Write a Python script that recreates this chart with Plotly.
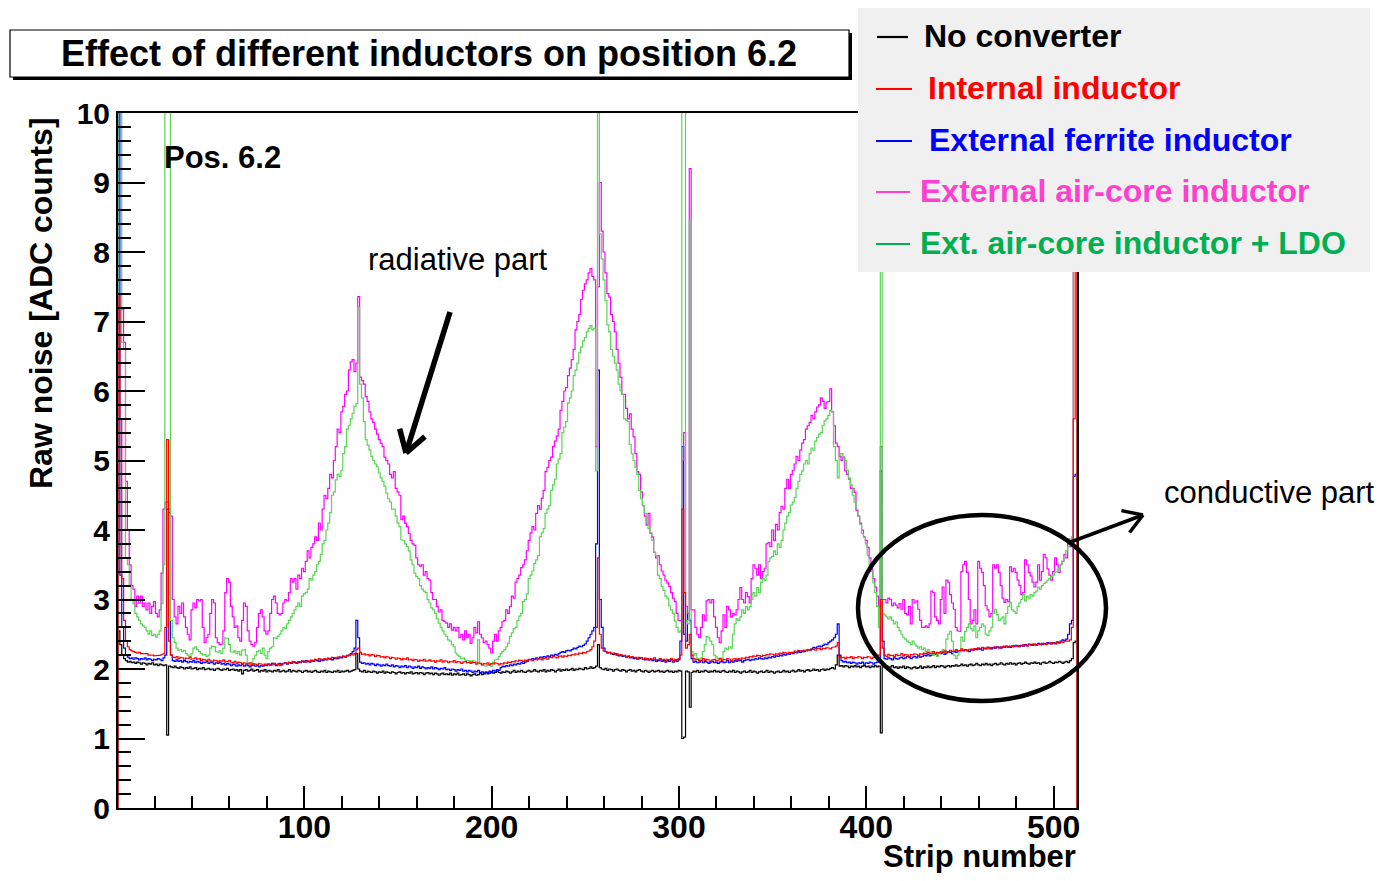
import numpy as np
import plotly.graph_objects as go

# ---------------- data (raw noise per strip, strips 1..512) ----------------
x_tick_values = [100, 200, 300, 400, 500]
y_tick_values = [0, 1, 2, 3, 4, 5, 6, 7, 8, 9, 10]

series_names = ["No converter", "Internal inductor", "External ferrite inductor",
                "External air-core inductor", "Ext. air-core inductor + LDO"]

no_converter = [
    2.55, 2.35, 2.20, 2.15, 2.12, 2.10, 2.11, 2.09, 2.10, 2.08, 2.10, 2.09, 2.07, 2.09, 2.08, 2.06,
    2.08, 2.07, 2.09, 2.06, 2.07, 2.05, 2.07, 2.06, 2.05, 2.06, 1.05, 2.04, 2.03, 2.02, 2.04, 2.02,
    2.01, 2.03, 2.02, 2.00, 2.02, 2.01, 2.03, 2.00, 2.01, 2.02, 1.99, 2.01, 2.00, 2.02, 1.99, 2.00,
    2.01, 1.99, 2.00, 1.98, 2.00, 2.01, 1.99, 1.98, 2.00, 1.99, 2.01, 1.98, 1.99, 2.00, 1.98, 1.99,
    1.97, 1.99, 1.93, 1.98, 1.99, 1.97, 1.98, 2.00, 1.97, 1.98, 1.99, 1.96, 1.98, 1.97, 1.99, 1.96,
    1.98, 1.97, 1.96, 1.98, 1.97, 1.99, 1.96, 1.97, 1.98, 1.96, 1.97, 1.99, 1.96, 1.98, 1.97, 1.96,
    1.98, 1.97, 1.95, 1.97, 1.98, 1.96, 1.97, 1.95, 1.97, 1.98, 1.96, 1.95, 1.97, 1.96, 1.98, 1.95,
    1.97, 1.96, 1.95, 1.97, 1.96, 1.98, 1.95, 1.97, 1.96, 1.97, 1.98, 1.96, 1.97, 1.98, 1.99, 2.22,
    2.00, 1.97, 1.96, 1.98, 1.95, 1.97, 1.96, 1.95, 1.97, 1.96, 1.94, 1.96, 1.95, 1.97, 1.94, 1.96,
    1.95, 1.94, 1.96, 1.95, 1.93, 1.95, 1.96, 1.94, 1.95, 1.93, 1.95, 1.94, 1.96, 1.93, 1.94, 1.95,
    1.93, 1.95, 1.94, 1.92, 1.94, 1.95, 1.93, 1.94, 1.92, 1.94, 1.93, 1.91, 1.93, 1.94, 1.92, 1.93,
    1.92, 1.94, 1.91, 1.93, 1.92, 1.94, 1.91, 1.92, 1.93, 1.91, 1.93, 1.92, 1.90, 1.92, 1.93, 1.91,
    1.92, 1.94, 1.92, 1.93, 1.95, 1.93, 1.94, 1.96, 1.94, 1.95, 1.97, 1.95, 1.94, 1.96, 1.95, 1.97,
    1.96, 1.94, 1.96, 1.98, 1.95, 1.97, 1.96, 1.98, 1.96, 1.95, 1.97, 1.98, 1.96, 1.97, 1.99, 1.97,
    1.96, 1.98, 1.97, 1.99, 1.96, 1.98, 1.97, 1.99, 1.98, 1.96, 1.98, 2.00, 1.97, 1.99, 1.98, 2.00,
    1.98, 1.99, 2.01, 1.98, 2.00, 1.99, 2.01, 2.00, 1.99, 2.02, 2.00, 2.01, 2.03, 2.01, 2.02, 2.04,
    2.35, 2.02, 2.00, 1.99, 2.01, 1.98, 2.00, 1.99, 1.97, 1.99, 2.00, 1.98, 1.97, 1.99, 1.98, 1.96,
    1.98, 1.99, 1.97, 1.98, 1.96, 1.98, 1.99, 1.97, 1.96, 1.98, 1.97, 1.95, 1.97, 1.98, 1.96, 1.97,
    1.98, 1.96, 1.97, 1.95, 1.97, 1.98, 1.96, 1.97, 1.95, 1.97, 1.96, 1.98, 1.97, 1.00, 1.02, 1.97,
    1.96, 1.45, 1.95, 1.97, 1.96, 1.98, 1.95, 1.97, 1.96, 1.98, 1.97, 1.95, 1.97, 1.96, 1.98, 1.96,
    1.97, 1.95, 1.97, 1.98, 1.96, 1.95, 1.97, 1.96, 1.98, 1.95, 1.97, 1.96, 1.94, 1.96, 1.97, 1.95,
    1.96, 1.98, 1.95, 1.97, 1.96, 1.94, 1.96, 1.97, 1.95, 1.96, 1.98, 1.95, 1.97, 1.96, 1.94, 1.96,
    1.97, 1.95, 1.96, 1.98, 1.96, 1.97, 1.95, 1.97, 1.98, 1.96, 1.97, 1.99, 1.97, 1.98, 1.96, 1.98,
    1.99, 1.97, 1.98, 2.00, 1.98, 1.99, 1.97, 1.99, 2.00, 1.98, 2.00, 1.99, 2.01, 2.02, 2.00, 2.06,
    2.20, 2.04, 2.05, 2.03, 2.05, 2.04, 2.02, 2.04, 2.03, 2.05, 2.03, 2.04, 2.02, 2.04, 2.05, 2.03,
    2.04, 2.02, 2.04, 2.03, 2.05, 2.03, 2.04, 1.08, 2.05, 2.03, 2.04, 2.02, 2.03, 2.05, 2.02, 2.03,
    2.01, 2.03, 2.02, 2.04, 2.01, 2.03, 2.02, 2.00, 2.02, 2.03, 2.01, 2.02, 2.04, 2.01, 2.03, 2.02,
    2.04, 2.02, 2.03, 2.05, 2.02, 2.04, 2.03, 2.05, 2.04, 2.02, 2.04, 2.05, 2.03, 2.05, 2.04, 2.06,
    2.04, 2.05, 2.07, 2.05, 2.06, 2.04, 2.06, 2.07, 2.05, 2.06, 2.08, 2.06, 2.05, 2.07, 2.06, 2.08,
    2.06, 2.07, 2.05, 2.07, 2.08, 2.06, 2.07, 2.09, 2.07, 2.06, 2.08, 2.07, 2.09, 2.07, 2.08, 2.06,
    2.08, 2.09, 2.07, 2.08, 2.10, 2.08, 2.07, 2.09, 2.08, 2.10, 2.08, 2.09, 2.07, 2.09, 2.10, 2.08,
    2.09, 2.11, 2.09, 2.08, 2.10, 2.09, 2.11, 2.10, 2.08, 2.10, 2.11, 2.09, 2.12, 2.15, 2.38, 2.40,
]

internal_inductor = [
    7.40, 5.60, 3.30, 2.70, 2.40, 2.32, 2.28, 2.26, 2.25, 2.24, 2.23, 2.24, 2.22, 2.22, 2.21, 2.22,
    2.20, 2.21, 2.20, 2.19, 2.20, 2.19, 2.20, 2.21, 2.22, 2.60, 5.30, 2.40, 2.20, 2.17, 2.16, 2.18,
    2.15, 2.17, 2.16, 2.14, 2.16, 2.15, 2.17, 2.14, 2.15, 2.16, 2.14, 2.15, 2.12, 2.14, 2.13, 2.12,
    2.14, 2.12, 2.11, 2.13, 2.12, 2.10, 2.12, 2.11, 2.13, 2.10, 2.11, 2.12, 2.10, 2.09, 2.11, 2.08,
    2.10, 2.09, 2.07, 2.09, 2.08, 2.07, 2.09, 2.06, 2.08, 2.07, 2.06, 2.08, 2.07, 2.05, 2.07, 2.06,
    2.07, 2.05, 2.06, 2.08, 2.06, 2.07, 2.05, 2.07, 2.08, 2.09, 2.08, 2.10, 2.09, 2.11, 2.10, 2.09,
    2.11, 2.10, 2.12, 2.11, 2.10, 2.12, 2.11, 2.13, 2.12, 2.14, 2.13, 2.15, 2.14, 2.13, 2.15, 2.14,
    2.16, 2.15, 2.17, 2.16, 2.15, 2.17, 2.18, 2.17, 2.19, 2.18, 2.20, 2.19, 2.21, 2.20, 2.22, 2.28,
    2.30, 2.24, 2.21, 2.22, 2.20, 2.21, 2.19, 2.21, 2.20, 2.18, 2.20, 2.19, 2.17, 2.18, 2.16, 2.18,
    2.17, 2.15, 2.17, 2.16, 2.14, 2.16, 2.15, 2.13, 2.15, 2.14, 2.16, 2.13, 2.14, 2.12, 2.14, 2.13,
    2.11, 2.13, 2.12, 2.14, 2.11, 2.12, 2.13, 2.11, 2.12, 2.10, 2.12, 2.11, 2.13, 2.10, 2.12, 2.11,
    2.09, 2.11, 2.10, 2.12, 2.09, 2.11, 2.10, 2.08, 2.10, 2.11, 2.09, 2.10, 2.08, 2.10, 2.09, 2.07,
    2.09, 2.08, 2.06, 2.08, 2.07, 2.09, 2.06, 2.08, 2.07, 2.09, 2.08, 2.06, 2.08, 2.07, 2.09, 2.08,
    2.10, 2.09, 2.11, 2.10, 2.12, 2.11, 2.13, 2.12, 2.11, 2.13, 2.12, 2.14, 2.13, 2.12, 2.14, 2.13,
    2.15, 2.14, 2.13, 2.15, 2.16, 2.14, 2.17, 2.16, 2.18, 2.17, 2.16, 2.18, 2.19, 2.17, 2.19, 2.18,
    2.20, 2.19, 2.21, 2.20, 2.22, 2.21, 2.23, 2.22, 2.24, 2.23, 2.25, 2.26, 2.28, 2.32, 2.40, 2.60,
    3.60, 2.50, 2.30, 2.26, 2.25, 2.23, 2.24, 2.22, 2.23, 2.21, 2.22, 2.20, 2.21, 2.19, 2.20, 2.18,
    2.19, 2.17, 2.18, 2.16, 2.17, 2.15, 2.17, 2.16, 2.14, 2.16, 2.15, 2.13, 2.15, 2.14, 2.16, 2.13,
    2.14, 2.15, 2.13, 2.14, 2.12, 2.14, 2.13, 2.15, 2.12, 2.14, 2.13, 2.15, 2.20, 4.30, 3.10, 2.30,
    2.35, 2.50, 2.20, 2.15, 2.13, 2.14, 2.12, 2.13, 2.15, 2.12, 2.14, 2.13, 2.11, 2.13, 2.14, 2.12,
    2.13, 2.15, 2.12, 2.14, 2.13, 2.15, 2.14, 2.12, 2.14, 2.15, 2.13, 2.15, 2.14, 2.16, 2.15, 2.17,
    2.16, 2.18, 2.17, 2.19, 2.18, 2.20, 2.19, 2.18, 2.20, 2.19, 2.21, 2.20, 2.22, 2.21, 2.20, 2.22,
    2.21, 2.23, 2.22, 2.24, 2.23, 2.22, 2.24, 2.25, 2.24, 2.26, 2.25, 2.27, 2.26, 2.25, 2.27, 2.26,
    2.28, 2.27, 2.29, 2.28, 2.27, 2.29, 2.30, 2.28, 2.30, 2.29, 2.31, 2.30, 2.29, 2.31, 2.32, 2.33,
    2.38, 2.18, 2.16, 2.17, 2.15, 2.17, 2.16, 2.18, 2.15, 2.17, 2.16, 2.18, 2.17, 2.15, 2.17, 2.16,
    2.18, 2.17, 2.15, 2.17, 2.16, 2.18, 2.20, 3.00, 2.30, 2.20, 2.18, 2.21, 2.19, 2.20, 2.18, 2.21,
    2.19, 2.20, 2.22, 2.19, 2.21, 2.20, 2.18, 2.21, 2.20, 2.22, 2.21, 2.19, 2.22, 2.21, 2.23, 2.22,
    2.24, 2.22, 2.23, 2.25, 2.22, 2.24, 2.23, 2.25, 2.24, 2.26, 2.24, 2.25, 2.27, 2.25, 2.26, 2.28,
    2.26, 2.27, 2.29, 2.27, 2.28, 2.26, 2.28, 2.29, 2.27, 2.29, 2.30, 2.28, 2.29, 2.31, 2.29, 2.30,
    2.31, 2.29, 2.31, 2.30, 2.32, 2.31, 2.30, 2.32, 2.31, 2.33, 2.32, 2.31, 2.33, 2.32, 2.34, 2.33,
    2.32, 2.34, 2.33, 2.35, 2.34, 2.33, 2.35, 2.34, 2.36, 2.35, 2.34, 2.36, 2.35, 2.37, 2.36, 2.35,
    2.37, 2.36, 2.38, 2.37, 2.36, 2.38, 2.37, 2.39, 2.38, 2.40, 2.41, 2.40, 2.42, 2.60, 5.60, 12.0,
]

external_ferrite = [
    12.0, 3.35, 2.60, 2.30, 2.20, 2.17, 2.15, 2.16, 2.14, 2.16, 2.15, 2.13, 2.15, 2.14, 2.16, 2.13,
    2.15, 2.14, 2.12, 2.14, 2.13, 2.15, 2.14, 2.12, 2.16, 2.20, 4.30, 4.25, 2.20, 2.12, 2.11, 2.13,
    2.11, 2.12, 2.10, 2.12, 2.11, 2.09, 2.11, 2.10, 2.12, 2.09, 2.11, 2.10, 2.08, 2.10, 2.09, 2.11,
    2.08, 2.10, 2.09, 2.07, 2.09, 2.08, 2.10, 2.07, 2.08, 2.06, 2.08, 2.07, 2.05, 2.07, 2.06, 2.04,
    2.06, 2.05, 2.07, 2.04, 2.06, 2.05, 2.03, 2.05, 2.06, 2.04, 2.05, 2.03, 2.05, 2.04, 2.06, 2.05,
    2.07, 2.06, 2.08, 2.07, 2.05, 2.07, 2.08, 2.06, 2.08, 2.09, 2.07, 2.09, 2.08, 2.10, 2.09, 2.08,
    2.10, 2.09, 2.11, 2.10, 2.12, 2.11, 2.10, 2.12, 2.11, 2.13, 2.12, 2.11, 2.13, 2.12, 2.14, 2.13,
    2.15, 2.14, 2.13, 2.15, 2.16, 2.15, 2.17, 2.16, 2.18, 2.17, 2.19, 2.20, 2.22, 2.25, 2.30, 2.70,
    2.45, 2.10, 2.08, 2.09, 2.07, 2.08, 2.06, 2.08, 2.07, 2.05, 2.07, 2.06, 2.04, 2.06, 2.05, 2.07,
    2.05, 2.04, 2.06, 2.03, 2.05, 2.04, 2.02, 2.04, 2.03, 2.05, 2.02, 2.04, 2.03, 2.01, 2.03, 2.02,
    2.04, 2.01, 2.03, 2.02, 2.00, 2.02, 2.01, 2.03, 2.00, 2.02, 2.01, 1.99, 2.01, 2.00, 2.02, 1.99,
    2.00, 1.98, 2.00, 1.99, 1.97, 1.99, 1.98, 2.00, 1.97, 1.98, 1.96, 1.98, 1.97, 1.95, 1.97, 1.96,
    1.98, 1.95, 1.96, 1.94, 1.96, 1.95, 1.97, 1.95, 1.98, 1.97, 1.99, 1.98, 2.02, 2.04, 2.03, 2.05,
    2.04, 2.06, 2.05, 2.07, 2.06, 2.08, 2.07, 2.09, 2.08, 2.10, 2.11, 2.13, 2.14, 2.15, 2.14, 2.16,
    2.15, 2.17, 2.16, 2.18, 2.17, 2.19, 2.18, 2.20, 2.19, 2.21, 2.20, 2.22, 2.24, 2.25, 2.24, 2.26,
    2.27, 2.26, 2.28, 2.30, 2.29, 2.31, 2.33, 2.32, 2.34, 2.36, 2.40, 2.45, 2.50, 2.55, 2.60, 3.80,
    6.30, 3.00, 2.60, 2.30, 2.25, 2.23, 2.24, 2.22, 2.21, 2.22, 2.20, 2.19, 2.20, 2.18, 2.19, 2.17,
    2.18, 2.16, 2.17, 2.15, 2.16, 2.14, 2.15, 2.16, 2.14, 2.13, 2.15, 2.13, 2.14, 2.12, 2.13, 2.11,
    2.12, 2.13, 2.11, 2.12, 2.10, 2.12, 2.11, 2.13, 2.10, 2.12, 2.11, 2.13, 2.40, 5.20, 2.50, 2.40,
    2.80, 2.70, 2.15, 2.10, 2.11, 2.09, 2.10, 2.12, 2.09, 2.11, 2.10, 2.08, 2.10, 2.11, 2.09, 2.10,
    2.08, 2.10, 2.11, 2.09, 2.10, 2.12, 2.09, 2.11, 2.10, 2.12, 2.11, 2.13, 2.12, 2.10, 2.12, 2.13,
    2.14, 2.12, 2.14, 2.13, 2.15, 2.14, 2.16, 2.15, 2.14, 2.16, 2.15, 2.17, 2.16, 2.18, 2.17, 2.19,
    2.18, 2.20, 2.19, 2.21, 2.20, 2.22, 2.21, 2.23, 2.22, 2.24, 2.23, 2.25, 2.24, 2.26, 2.25, 2.27,
    2.28, 2.27, 2.29, 2.31, 2.30, 2.32, 2.33, 2.32, 2.34, 2.36, 2.35, 2.38, 2.40, 2.42, 2.45, 2.50,
    2.65, 2.20, 2.12, 2.10, 2.11, 2.09, 2.10, 2.08, 2.10, 2.09, 2.07, 2.09, 2.08, 2.10, 2.07, 2.09,
    2.08, 2.10, 2.09, 2.07, 2.09, 2.10, 2.12, 4.85, 2.40, 2.15, 2.14, 2.16, 2.15, 2.13, 2.16, 2.15,
    2.14, 2.16, 2.17, 2.15, 2.16, 2.18, 2.17, 2.15, 2.17, 2.18, 2.16, 2.19, 2.17, 2.18, 2.20, 2.19,
    2.21, 2.19, 2.20, 2.22, 2.21, 2.20, 2.23, 2.22, 2.24, 2.21, 2.23, 2.25, 2.24, 2.22, 2.25, 2.24,
    2.26, 2.25, 2.27, 2.26, 2.28, 2.27, 2.25, 2.28, 2.27, 2.29, 2.28, 2.30, 2.29, 2.27, 2.30, 2.29,
    2.31, 2.30, 2.29, 2.31, 2.30, 2.32, 2.31, 2.30, 2.32, 2.31, 2.33, 2.32, 2.31, 2.33, 2.32, 2.34,
    2.33, 2.32, 2.34, 2.33, 2.35, 2.34, 2.36, 2.35, 2.34, 2.36, 2.35, 2.37, 2.36, 2.35, 2.37, 2.36,
    2.38, 2.37, 2.36, 2.38, 2.37, 2.39, 2.38, 2.40, 2.42, 2.41, 2.43, 2.50, 2.65, 2.70, 4.77, 4.80,
]

external_aircore = [
    7.20, 7.20, 7.17, 6.70, 4.70, 4.00, 3.50, 3.20, 3.15, 2.90, 3.05, 2.95, 3.05, 2.90, 2.95, 2.85,
    2.95, 2.80, 2.90, 2.97, 2.80, 2.75, 2.85, 3.38, 4.30, 4.40, 4.40, 4.30, 4.20, 3.00, 2.75, 2.65,
    2.90, 2.80, 2.95, 2.75, 2.60, 2.50, 2.42, 2.85, 2.95, 2.88, 3.00, 2.98, 3.00, 2.60, 2.38, 2.45,
    2.50, 2.80, 3.00, 2.95, 2.45, 2.38, 2.35, 2.36, 2.55, 3.10, 3.30, 3.25, 2.90, 2.75, 2.60, 2.62,
    2.45, 2.40, 2.70, 2.95, 2.90, 2.55, 2.40, 2.35, 2.33, 2.38, 2.60, 2.80, 2.85, 2.75, 2.55, 2.50,
    2.55, 2.80, 3.00, 3.05, 2.95, 2.80, 2.78, 2.80, 2.95, 3.00, 2.98, 3.10, 3.30, 3.25, 3.30, 3.15,
    3.35, 3.30, 3.45, 3.40, 3.55, 3.70, 3.60, 3.75, 3.80, 3.90, 3.85, 4.10, 4.00, 4.30, 4.50, 4.45,
    4.60, 4.80, 4.75, 5.00, 5.20, 5.45, 5.40, 5.70, 5.78, 5.95, 6.00, 6.30, 6.42, 6.45, 6.28, 6.40,
    7.36, 6.20, 6.15, 6.10, 5.92, 5.85, 5.70, 5.60, 5.55, 5.45, 5.38, 5.30, 5.25, 5.20, 5.05, 5.00,
    4.95, 4.80, 4.75, 4.84, 4.60, 4.55, 4.50, 4.15, 4.20, 4.10, 4.05, 3.95, 3.85, 3.80, 3.78, 3.60,
    3.50, 3.48, 3.50, 3.35, 3.40, 3.30, 3.28, 3.10, 3.00, 3.00, 2.90, 2.82, 2.85, 2.70, 2.68, 2.66,
    2.60, 2.65, 2.56, 2.60, 2.55, 2.60, 2.45, 2.50, 2.42, 2.55, 2.45, 2.50, 2.37, 2.45, 2.60, 2.52,
    2.68, 2.50, 2.45, 2.38, 2.40, 2.35, 2.30, 2.23, 2.40, 2.50, 2.40, 2.55, 2.60, 2.68, 2.70, 2.85,
    2.80, 2.90, 3.05, 3.02, 3.25, 3.30, 3.35, 3.46, 3.50, 3.57, 3.70, 3.85, 3.96, 4.05, 4.00, 4.24,
    4.35, 4.30, 4.46, 4.57, 4.84, 4.90, 5.00, 5.05, 5.20, 5.28, 5.35, 5.45, 5.72, 5.85, 6.00, 6.05,
    6.22, 6.33, 6.45, 6.60, 6.88, 7.00, 7.10, 7.32, 7.45, 7.54, 7.60, 7.70, 7.76, 7.65, 7.60, 5.20,
    7.50, 9.00, 8.30, 8.00, 7.70, 7.40, 7.35, 7.10, 7.00, 6.85, 6.60, 6.40, 6.20, 5.95, 5.95, 5.75,
    5.60, 5.67, 5.45, 5.34, 5.10, 4.84, 4.80, 4.55, 4.35, 4.20, 4.07, 4.24, 3.95, 3.90, 3.68, 3.60,
    3.63, 3.50, 3.41, 3.35, 3.28, 3.24, 3.19, 3.10, 3.02, 2.97, 2.80, 2.70, 2.69, 5.00, 5.40, 2.90,
    2.80, 9.20, 2.85, 2.85, 2.60, 2.50, 2.45, 2.60, 2.78, 2.70, 2.98, 3.00, 2.95, 3.00, 2.75, 2.60,
    2.45, 2.38, 2.55, 2.78, 2.60, 2.90, 2.85, 2.75, 2.80, 2.78, 2.85, 3.00, 3.17, 3.00, 2.95, 3.10,
    3.04, 2.95, 3.30, 3.50, 3.45, 3.35, 3.50, 3.30, 3.40, 3.45, 3.80, 3.82, 3.76, 4.00, 3.85, 4.08,
    4.00, 4.25, 4.34, 4.30, 4.60, 4.73, 4.60, 4.80, 4.86, 4.95, 5.06, 5.00, 5.15, 5.25, 5.30, 5.45,
    5.50, 5.55, 5.65, 5.60, 5.70, 5.77, 5.80, 5.90, 5.85, 5.75, 5.84, 5.85, 6.03, 5.70, 5.50, 5.25,
    5.20, 5.06, 5.00, 5.05, 4.85, 4.80, 4.73, 4.60, 4.60, 4.54, 4.28, 4.20, 4.10, 4.00, 3.90, 3.85,
    3.75, 3.60, 3.44, 3.30, 3.18, 3.05, 2.90, 5.20, 3.00, 3.00, 2.95, 3.02, 3.00, 2.91, 2.95, 2.92,
    2.88, 2.94, 2.86, 3.00, 2.80, 2.78, 2.90, 2.65, 3.00, 2.95, 2.98, 2.86, 2.70, 2.60, 2.60, 2.62,
    2.60, 2.65, 3.12, 3.10, 2.75, 2.70, 2.65, 3.00, 3.18, 2.80, 3.28, 3.25, 3.07, 2.95, 2.86, 2.60,
    2.55, 2.54, 3.40, 3.50, 3.55, 3.39, 3.00, 2.65, 2.70, 2.85, 2.65, 3.55, 3.45, 3.39, 3.20, 2.91,
    2.85, 2.75, 2.80, 3.50, 3.45, 3.50, 3.39, 3.20, 3.02, 2.96, 3.00, 2.97, 3.47, 3.40, 3.45, 3.39,
    3.28, 3.20, 3.07, 3.10, 3.57, 3.50, 3.39, 3.34, 3.25, 3.18, 3.25, 3.50, 3.28, 3.40, 3.65, 3.60,
    3.44, 3.35, 3.28, 3.40, 3.60, 3.50, 3.39, 3.50, 3.55, 3.65, 3.60, 3.87, 3.76, 3.80, 9.50, 9.50,
]

aircore_ldo = [
    12.0, 12.0, 6.70, 6.60, 3.60, 3.50, 3.20, 3.00, 2.94, 2.80, 2.75, 2.70, 2.65, 2.62, 2.60, 2.55,
    2.50, 2.55, 2.48, 2.50, 2.46, 2.50, 2.55, 2.94, 3.50, 12.0, 12.0, 12.0, 2.70, 2.45, 2.38, 2.30,
    2.27, 2.28, 2.25, 2.27, 2.22, 2.20, 2.18, 2.22, 2.30, 2.32, 2.28, 2.25, 2.22, 2.20, 2.21, 2.18,
    2.20, 2.30, 2.33, 2.32, 2.25, 2.24, 2.26, 2.22, 2.30, 2.45, 2.44, 2.35, 2.25, 2.24, 2.26, 2.22,
    2.25, 2.20, 2.27, 2.28, 2.20, 2.08, 2.09, 2.07, 2.15, 2.20, 2.25, 2.27, 2.22, 2.30, 2.20, 2.15,
    2.25, 2.30, 2.32, 2.45, 2.44, 2.47, 2.50, 2.55, 2.60, 2.58, 2.65, 2.70, 2.75, 2.80, 2.85, 2.90,
    2.95, 2.90, 3.05, 3.08, 3.10, 3.15, 3.30, 3.28, 3.35, 3.40, 3.50, 3.55, 3.65, 3.80, 3.85, 4.00,
    4.10, 4.25, 4.50, 4.55, 4.72, 4.80, 4.77, 4.86, 5.10, 5.20, 5.45, 5.50, 5.60, 5.68, 5.78, 5.82,
    7.20, 6.10, 5.90, 5.56, 5.30, 5.22, 5.15, 5.06, 5.00, 4.95, 4.91, 4.82, 4.75, 4.70, 4.63, 4.53,
    4.45, 4.40, 4.30, 4.30, 4.20, 4.10, 4.05, 3.86, 3.85, 3.80, 3.76, 3.70, 3.57, 3.50, 3.38, 3.33,
    3.30, 3.20, 3.15, 3.12, 3.10, 3.00, 2.95, 2.88, 2.85, 2.80, 2.72, 2.66, 2.60, 2.55, 2.50, 2.47,
    2.42, 2.40, 2.35, 2.32, 2.23, 2.20, 2.18, 2.15, 2.16, 2.13, 2.13, 2.12, 2.10, 2.12, 2.11, 2.10,
    2.42, 2.08, 2.06, 2.05, 2.04, 2.06, 2.05, 2.04, 2.10, 2.13, 2.14, 2.18, 2.22, 2.25, 2.28, 2.32,
    2.37, 2.47, 2.52, 2.58, 2.60, 2.70, 2.76, 2.80, 2.97, 3.00, 3.08, 3.30, 3.35, 3.41, 3.52, 3.57,
    3.63, 3.90, 3.96, 4.02, 4.24, 4.30, 4.35, 4.57, 4.65, 4.73, 4.95, 5.02, 5.10, 5.40, 5.48, 5.56,
    5.83, 5.90, 6.00, 6.22, 6.30, 6.40, 6.55, 6.63, 6.72, 6.77, 6.85, 6.90, 6.94, 6.88, 6.90, 4.85,
    12.0, 8.26, 7.90, 7.60, 7.30, 6.95, 6.85, 6.60, 6.50, 6.40, 6.30, 6.10, 6.00, 5.95, 5.60, 5.58,
    5.56, 5.23, 5.10, 5.00, 4.90, 4.80, 4.57, 4.45, 4.35, 4.24, 4.10, 4.02, 3.96, 3.85, 3.68, 3.63,
    3.35, 3.30, 3.19, 3.13, 3.05, 3.02, 2.91, 2.85, 2.80, 2.69, 2.60, 2.53, 2.55, 12.0, 12.0, 2.70,
    2.65, 8.45, 2.25, 2.20, 2.22, 2.15, 2.14, 2.16, 2.25, 2.35, 2.47, 2.45, 2.40, 2.35, 2.20, 2.17,
    2.15, 2.16, 2.14, 2.25, 2.30, 2.28, 2.32, 2.30, 2.50, 2.65, 2.72, 2.70, 2.75, 2.85, 2.80, 2.90,
    2.85, 2.90, 3.00, 3.10, 3.05, 3.17, 3.10, 3.25, 3.30, 3.27, 3.35, 3.55, 3.60, 3.62, 3.70, 3.65,
    3.80, 3.75, 3.85, 4.00, 4.10, 4.20, 4.25, 4.36, 4.40, 4.47, 4.60, 4.70, 4.80, 4.85, 4.95, 5.00,
    4.95, 5.10, 5.18, 5.15, 5.28, 5.33, 5.38, 5.40, 5.50, 5.57, 5.60, 5.65, 5.72, 5.70, 5.20, 5.00,
    4.75, 5.08, 5.10, 5.05, 5.00, 4.86, 4.75, 4.65, 4.50, 4.40, 4.30, 4.20, 4.08, 3.95, 3.90, 3.80,
    3.63, 3.50, 3.40, 3.24, 3.10, 2.90, 2.60, 12.0, 2.80, 2.78, 2.75, 2.72, 2.75, 2.70, 2.65, 2.68,
    2.60, 2.55, 2.50, 2.45, 2.43, 2.40, 2.38, 2.35, 2.40, 2.36, 2.33, 2.30, 2.32, 2.28, 2.30, 2.25,
    2.28, 2.22, 2.25, 2.20, 2.22, 2.18, 2.22, 2.25, 2.28, 2.24, 2.43, 2.50, 2.54, 2.40, 2.20, 2.15,
    2.20, 2.25, 2.46, 2.40, 2.54, 2.60, 2.65, 2.58, 2.55, 2.62, 2.45, 2.55, 2.60, 2.65, 2.62, 2.50,
    2.48, 2.55, 2.60, 2.80, 2.86, 2.78, 2.70, 2.72, 2.75, 2.65, 2.80, 2.90, 2.96, 2.85, 2.83, 2.80,
    2.90, 2.95, 3.00, 3.07, 2.98, 3.05, 3.02, 3.07, 3.05, 3.10, 3.12, 3.18, 3.15, 3.20, 3.23, 3.25,
    3.28, 3.30, 3.33, 3.35, 3.39, 3.40, 3.45, 3.50, 3.55, 3.60, 3.70, 3.76, 3.87, 3.90, 9.50, 9.50,
]

# ---------------- styling ----------------
FONT = "Liberation Sans, Arial, Helvetica, sans-serif"
trace_colors = ["#000000", "#ff0000", "#0000ff", "#ff00ff", "#59d454"]
legend_text_colors = ["#000000", "#ff0000", "#0000ff", "#ff3fcf", "#00b050"]

# reference-picture pixel geometry (plot area 118..1077 x 113..808)
PL, PR, PT, PB = 118.0, 1077.0, 113.0, 808.0
OFF = 8  # browser body margin


def xp(px):
    return (px - PL) / (PR - PL)


def yp(py):
    return (PB - py) / (PB - PT)


def step_xy(vals):
    v = np.asarray(vals, dtype=float)
    n = len(v)
    lo = np.arange(1, n + 1) - 0.5
    hi = lo + 1.0
    xs = np.empty(2 * n + 2)
    ys = np.empty(2 * n + 2)
    xs[0], ys[0] = lo[0], 0.0
    xs[1:-1:2], xs[2:-1:2] = lo, hi
    ys[1:-1:2], ys[2:-1:2] = v, v
    xs[-1], ys[-1] = hi[-1], 0.0
    return xs, ys


fig = go.Figure()
all_series = [no_converter, internal_inductor, external_ferrite, external_aircore, aircore_ldo]
draw_order = [0, 2, 3, 4, 1]
for k in draw_order:
    xs, ys = step_xy(all_series[k])
    fig.add_trace(go.Scatter(x=xs, y=ys, mode="lines", name=series_names[k],
                             line=dict(color=trace_colors[k], width=1.2),
                             hoverinfo="skip", showlegend=False))

W_fig, H_fig = 1384 - 2 * OFF, 881 - 2 * OFF
ml = PL - OFF
mt = PT - OFF
mr = W_fig - ml - (PR - PL)
mb = H_fig - mt - (PB - PT)

fig.update_layout(
    width=W_fig, height=H_fig,
    margin=dict(l=ml, r=mr, t=mt, b=mb, pad=0),
    plot_bgcolor="white", paper_bgcolor="white",
    showlegend=False,
    font=dict(family=FONT, color="black"),
)

x_minor = [v for v in range(20, 513, 20) if v not in x_tick_values]
y_minor = [round(i * 0.2, 1) for i in range(0, 51) if i % 5 != 0]

fig.update_xaxes(
    range=[0.5, 512.5], tickmode="array", tickvals=x_tick_values,
    ticks="inside", ticklen=22, tickwidth=1.5, tickcolor="black",
    showline=True, linewidth=2, linecolor="black", mirror=True,
    showgrid=False, zeroline=False, ticklabelstandoff=-10,
    tickfont=dict(family=FONT, size=32, color="black", weight="bold"),
    minor=dict(tickmode="array", tickvals=x_minor, ticks="inside", ticklen=12,
               tickwidth=1.5, tickcolor="black", showgrid=False),
)
fig.update_yaxes(
    range=[0, 10], tickmode="array", tickvals=y_tick_values,
    ticks="inside", ticklen=27, tickwidth=1.5, tickcolor="black",
    showline=True, linewidth=2, linecolor="black", mirror=True,
    showgrid=False, zeroline=False,
    tickfont=dict(family=FONT, size=30, color="black", weight="bold"),
    minor=dict(tickmode="array", tickvals=y_minor, ticks="inside", ticklen=13,
               tickwidth=1.5, tickcolor="black", showgrid=False),
)

shapes = []
# title box with shadow
shapes.append(dict(type="rect", xref="paper", yref="paper", x0=xp(13), x1=xp(852), y0=yp(80), y1=yp(33),
                   fillcolor="black", line=dict(width=0), layer="above"))
shapes.append(dict(type="rect", xref="paper", yref="paper", x0=xp(10), x1=xp(849), y0=yp(77), y1=yp(30),
                   fillcolor="white", line=dict(color="black", width=1.2), layer="above"))
# legend panel
shapes.append(dict(type="rect", xref="paper", yref="paper", x0=xp(858), x1=xp(1370), y0=yp(272), y1=yp(5),
                   fillcolor="#f0f0f0", line=dict(width=0), layer="above"))
legend_rows = [
    (37, 877, 908, 922),
    (89, 876, 912, 926),
    (141, 876, 912, 927),
    (192, 876, 910, 918),
    (244, 876, 910, 918),
]
for i, (yy, lx0, lx1, tx) in enumerate(legend_rows):
    shapes.append(dict(type="line", xref="paper", yref="paper", x0=xp(lx0), x1=xp(lx1), y0=yp(yy), y1=yp(yy),
                       line=dict(color=legend_text_colors[i], width=2.2), layer="above"))

# ellipse around the conductive part
shapes.append(dict(type="circle", xref="paper", yref="paper", x0=xp(858), x1=xp(1106), y0=yp(701), y1=yp(515),
                   line=dict(color="black", width=4.5), layer="above"))


def arrow(tail, tip, width, arm=25.0, ang=32.0):
    (x0, y0), (x1, y1) = tail, tip
    d = np.array([x0 - x1, y0 - y1], dtype=float)
    d /= np.hypot(*d)
    out = [dict(type="line", xref="paper", yref="paper", x0=xp(x0), y0=yp(y0), x1=xp(x1), y1=yp(y1),
                line=dict(color="black", width=width), layer="above")]
    for s in (1, -1):
        a = np.radians(ang) * s
        r = np.array([d[0] * np.cos(a) - d[1] * np.sin(a), d[0] * np.sin(a) + d[1] * np.cos(a)])
        ex, ey = x1 + arm * r[0], y1 + arm * r[1]
        out.append(dict(type="line", xref="paper", yref="paper", x0=xp(x1), y0=yp(y1), x1=xp(ex), y1=yp(ey),
                        line=dict(color="black", width=width), layer="above"))
    return out


shapes += arrow((450, 312), (406, 453), 5.5)
shapes += arrow((1068, 543), (1143, 515), 3.5, arm=22.0)
fig.update_layout(shapes=shapes)

ann = []
ann.append(dict(text="<b>Effect of different inductors on position 6.2</b>", x=xp(429), y=yp(53),
                xref="paper", yref="paper", xanchor="center", yanchor="middle", showarrow=False,
                font=dict(family=FONT, size=36, color="black")))
for i, (yy, lx0, lx1, tx) in enumerate(legend_rows):
    ann.append(dict(text="<b>" + series_names[i] + "</b>", x=xp(tx), y=yp(yy - 1),
                    xref="paper", yref="paper", xanchor="left", yanchor="middle", showarrow=False,
                    font=dict(family=FONT, size=32, color=legend_text_colors[i])))
ann.append(dict(text="<b>Pos. 6.2</b>", x=xp(162), y=yp(157), xref="paper", yref="paper",
                xanchor="left", yanchor="middle", showarrow=False,
                font=dict(family=FONT, size=31, color="black")))
ann.append(dict(text="radiative part", x=xp(366), y=yp(260), xref="paper", yref="paper",
                xanchor="left", yanchor="middle", showarrow=False,
                font=dict(family=FONT, size=31, color="black")))
ann.append(dict(text="conductive part", x=xp(1162), y=yp(492), xref="paper", yref="paper",
                xanchor="left", yanchor="middle", showarrow=False,
                font=dict(family=FONT, size=31, color="black")))
ann.append(dict(text="<b>Raw noise [ADC counts]</b>", x=xp(41), y=yp(303), xref="paper", yref="paper",
                xanchor="center", yanchor="middle", textangle=-90, showarrow=False,
                font=dict(family=FONT, size=32, color="black")))
ann.append(dict(text="<b>Strip number</b>", x=xp(1078), y=yp(856), xref="paper", yref="paper",
                xanchor="right", yanchor="middle", showarrow=False,
                font=dict(family=FONT, size=31, color="black")))
fig.update_layout(annotations=ann)

fig.write_html("out.html")
